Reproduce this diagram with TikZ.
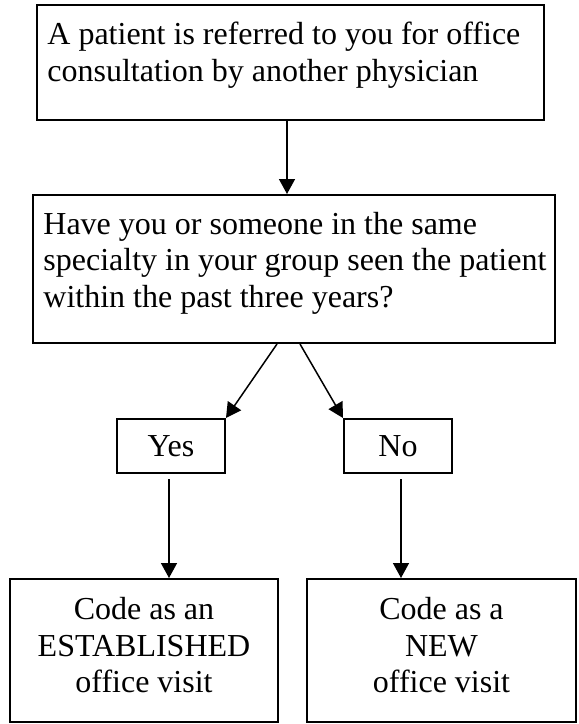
\documentclass[tikz,border=0pt]{standalone}
\usepackage{fontspec}
\setmainfont{Liberation Serif}
\usetikzlibrary{arrows.meta}

\begin{document}
\begin{tikzpicture}[x=0.5pt,y=-0.5pt,
  font=\fontsize{16pt}{18.3pt}\selectfont,
  box/.style={draw,line width=1pt,inner sep=0pt},
  txt/.style={anchor=north west,align=left,inner xsep=5.5pt,inner ysep=8.8pt},
  arr/.style={line width=0.75pt,-{Triangle[width=8pt,length=7.5pt]}}]

\useasboundingbox (0,0) rectangle (579,724);

\node [box,minimum width=253.5pt,minimum height=57.5pt,
  label={[txt]north west:A patient is referred to you for office\\consultation by another physician}] (ref) at (290.5,62.5) {};
\node [box,minimum width=261pt,minimum height=74pt,
  label={[txt]north west:Have you or someone in the same\\specialty in your group seen the patient\\within the past three years?}] (q) at (294,269) {};

\node [box,minimum width=54pt,minimum height=27pt] (yes) at (171,446) {Yes};
\node [box,minimum width=54pt,minimum height=27pt] (no) at (398,446) {No};

\node [box,align=center,minimum width=134pt,minimum height=71.5pt] (est) at (144,650.5) {Code as an\\ESTABLISHED\\office visit\strut};
\node [box,align=center,minimum width=134.5pt,minimum height=71.5pt] (new) at (441.5,650.5) {Code as a\\NEW\\office visit\strut};

\draw [arr] ([xshift=-1.75pt]ref.south) -- ([xshift=-1.75pt]ref.south |- q.north);
\draw [arr] ([xshift=-8.5pt]q.south) -- (yes.north east);
\draw [arr] ([xshift=3pt]q.south) -- (no.north west);
\draw [arr,shorten <=2.5pt] ([xshift=-1pt]yes.south) -- ([xshift=-1pt]yes.south |- est.north);
\draw [arr,shorten <=2.5pt] ([xshift=1.5pt]no.south) -- ([xshift=1.5pt]no.south |- new.north);
\end{tikzpicture}
\end{document}
